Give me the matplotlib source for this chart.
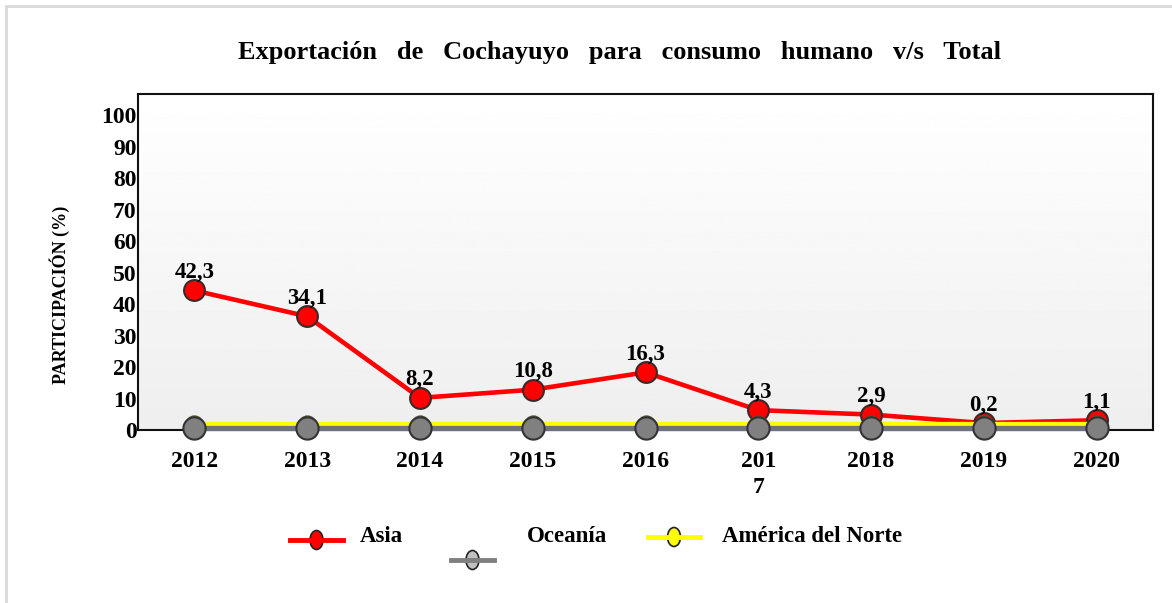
import numpy as np
import matplotlib
matplotlib.use("Agg")
import matplotlib.pyplot as plt
from matplotlib.lines import Line2D
from matplotlib.patches import Ellipse, Rectangle

# Datos
anios = ["2012", "2013", "2014", "2015", "2016", "201\n7", "2018", "2019", "2020"]
asia = [42.3, 34.1, 8.2, 10.8, 16.3, 4.3, 2.9, 0.2, 1.1]
oceania = [0.5, 0.5, 0.5, 0.5, 0.5, 0.5, 0.5, 0.5, 0.5]
america_norte = [1.5, 1.5, 1.5, 1.5, 1.5, 1.5, 1.5, 1.5, 1.5]
etiquetas_asia = ["42,3", "34,1", "8,2", "10,8", "16,3", "4,3", "2,9", "0,2", "1,1"]

titulo = "Exportación   de   Cochayuyo   para   consumo   humano   v/s   Total"
ylabel = "PARTICIPACIÓN (%)"

plt.rcParams['font.family'] = ['Liberation Serif', 'DejaVu Serif']
plt.rcParams['font.weight'] = 'bold'

W, H = 1172, 603
fig = plt.figure(figsize=(W / 100, H / 100), dpi=100)

# marco exterior gris claro
fig.add_artist(Rectangle((6 / W, -0.1), 1.2, 1 - 6 / H + 0.1, transform=fig.transFigure,
                         fill=False, edgecolor="#d9d9d9", linewidth=2))

ax = fig.add_axes([138 / W, (H - 430) / H, (1153 - 138) / W, (430 - 94) / H])

x = np.arange(len(anios))
# series apiladas: Oceanía abajo, luego América del Norte, luego Asia
y_oce = np.array(oceania)
y_nor = y_oce + np.array(america_norte)
y_asia = y_nor + np.array(asia)

# fondo degradado
grad = np.linspace(1, 0, 256).reshape(-1, 1)
ax.imshow(grad, extent=[-0.5, 8.5, 0, 106.7], aspect="auto", cmap="gray",
          vmin=-14, vmax=1, zorder=0, origin="upper")
ax.set_xlim(-0.5, 8.5)
ax.set_ylim(0, 106.7)

ax.plot(x, y_asia, color="#ff0000", lw=3.3, marker="o", ms=15, mfc="#ff0000",
        mec="#3a2a2a", mew=1.5, zorder=3, clip_on=False)
ax.plot(x, y_nor, color="#ffff00", lw=3.8, marker="o", ms=12, mfc="#ffff00",
        mec="#555533", mew=1.2, zorder=4, clip_on=False)
ax.plot(x, y_oce, color="#6f7474", lw=3.8, marker="o", ms=16, mfc="#808080",
        mec="#333333", mew=1.5, zorder=5, clip_on=False)

for xi, yi, t in zip(x, y_asia, etiquetas_asia):
    ax.annotate(t, (xi, yi), xytext=(0, 13), textcoords="offset points",
                ha="center", va="center", fontsize=16.5, fontweight="bold", zorder=6)

ax.set_yticks(np.arange(0, 101, 10))
ax.set_xticks(x)
ax.set_xticklabels(anios, linespacing=1.3)
ax.tick_params(axis="both", length=0, labelsize=17)
ax.tick_params(axis="x", pad=15)
ax.tick_params(axis="y", pad=1)
for lab in ax.get_xticklabels() + ax.get_yticklabels():
    lab.set_fontweight("bold")
for s in ax.spines.values():
    s.set_linewidth(1.5)
    s.set_color("#111111")

fig.text(60 / W, 1 - 295 / H, ylabel, rotation=90, ha="center", va="center",
         fontsize=13, fontweight="bold")
fig.text(620 / W, 1 - 52 / H, titulo, ha="center", va="center",
         fontsize=19, fontweight="bold")

# leyenda manual
def item(x0, x1, yc, line_color, face, lw):
    fy = 1 - yc / H
    fig.add_artist(Line2D([x0 / W, x1 / W], [fy, fy], transform=fig.transFigure,
                          color=line_color, lw=lw))
    xc = (x0 + x1) / 2
    fig.add_artist(Ellipse((xc / W, fy), 13 / W, 19 / H, transform=fig.transFigure,
                           facecolor=face, edgecolor="#222222", lw=1.2))

item(290, 343, 540, "#ff0000", "#ff0000", 3.5)
item(451, 494, 560, "#808080", "#c0c0c0", 3.5)
item(648, 700, 537, "#ffff00", "#ffff00", 3.5)
fig.text(360 / W, 1 - 537 / H, "Asia", ha="left", va="center", fontsize=16.5, fontweight="bold")
fig.text(527 / W, 1 - 537 / H, "Oceanía", ha="left", va="center", fontsize=16.5, fontweight="bold")
fig.text(722 / W, 1 - 537 / H, "América del Norte", ha="left", va="center", fontsize=16.5, fontweight="bold")

fig.savefig("out.png", dpi=100)
